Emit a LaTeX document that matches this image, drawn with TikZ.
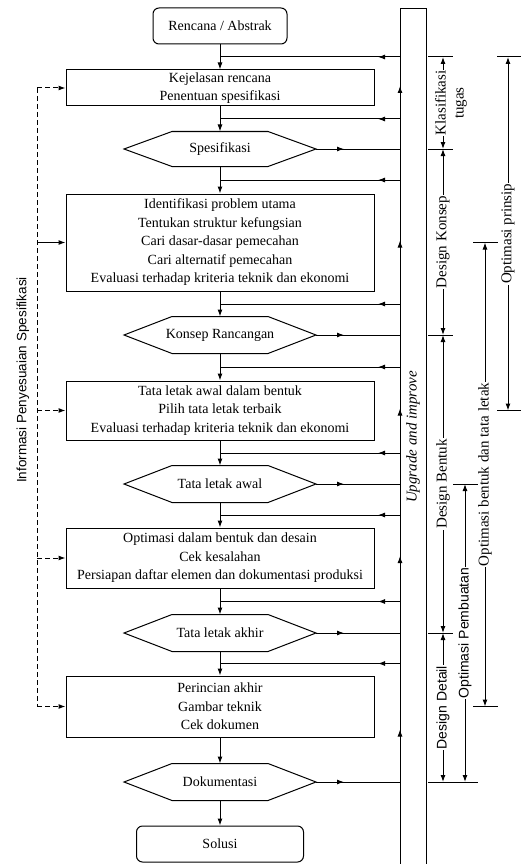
\documentclass[tikz,border=0pt]{standalone}
\usepackage{fontspec}
\setmainfont{Liberation Serif}
\newfontfamily\labelsans{Liberation Sans}
\usetikzlibrary{arrows.meta,positioning,calc}

\tikzset{
  box/.style={draw, minimum width=308pt, align=center, inner sep=2pt,
    font=\fontsize{14}{18.5}\selectfont},
  term/.style={box, rounded corners=6pt, minimum height=36pt},
  hexa/.style={minimum width=191pt, minimum height=36pt,
    font=\fontsize{14}{18.5}\selectfont},
  lbl/.style={rotate=90, fill=white, inner sep=1pt, align=center,
    font=\fontsize{15}{18}\selectfont},
  sanslbl/.style={lbl, font=\labelsans\fontsize{14}{17}\selectfont},
  info/.style={dash pattern=on 5pt off 3pt}
}

\begin{document}
\begin{tikzpicture}[x=1pt, y=1pt, line width=1pt, node distance=25pt,
    >={Latex[length=7pt,width=5pt]}]
  \useasboundingbox (0,0) rectangle (521,-864);

  % main column
  \node[term, minimum width=134pt] (ren) at (220,-26) {Rencana / Abstrak};
  \node[box, minimum height=36pt] (kej) [below=of ren] {Kejelasan rencana\\Penentuan spesifikasi};
  \node[hexa, minimum height=34pt] (spek) [below=of kej] {Spesifikasi};
  \node[box, minimum height=97pt] (ident) [below=27pt of spek] {Identifikasi problem utama\\Tentukan struktur kefungsian\\Cari dasar-dasar pemecahan\\Cari alternatif pemecahan\\Evaluasi terhadap kriteria teknik dan ekonomi};
  \node[hexa] (konsep) [below=of ident] {Konsep Rancangan};
  \node[box, minimum height=59pt] (awal) [below=27pt of konsep] {Tata letak awal dalam bentuk\\Pilih tata letak terbaik\\Evaluasi terhadap kriteria teknik dan ekonomi};
  \node[hexa] (awalhex) [below=of awal] {Tata letak awal};
  \node[box, minimum height=60pt] (opt) [below=of awalhex] {Optimasi dalam bentuk dan desain\\Cek kesalahan\\Persiapan daftar elemen dan dokumentasi produksi};
  \node[hexa] (akhir) [below=26pt of opt] {Tata letak akhir};
  \node[box, minimum height=61pt] (rinci) [below=24pt of akhir] {Perincian akhir\\Gambar teknik\\Cek dokumen};
  \node[hexa] (dok) [below=26pt of rinci] {Dokumentasi};
  \node[term, minimum width=167pt] (solusi) [below=of dok] {Solusi};

  \foreach \a/\b in {ren/kej, kej/spek, spek/ident, ident/konsep, konsep/awal,
      awal/awalhex, awalhex/opt, opt/akhir, akhir/rinci, rinci/dok, dok/solusi}
    \draw[->] (\a) -- (\b);

  % upgrade and improve
  \coordinate (up) at (400,-9);
  \coordinate (upb) at (400,-864);
  \coordinate (up2) at (426,-9);
  \coordinate (up2b) at (426,-864);
  \draw (upb) -- (up) -- (up2) -- (up2b);
  \node[rotate=90, font=\itshape\fontsize{15}{18}\selectfont] (upg) at (413,-437) {Upgrade and improve};
  \foreach \b in {kej,ident,awal,opt}
    \draw[->] ($(up |- \b)+(0,-6)$) -- ($(up |- \b)+(0,2)$);
  \draw[->] ($(up |- rinci)+(0,-31)$) -- ($(up |- rinci)+(0,-23)$);

  % feedback lines
  \coordinate (start) at ($(ren.south)!.5!(kej.north)$);
  \foreach \a/\b in {ren/kej, kej/spek, spek/ident, ident/konsep, konsep/awal,
      awal/awalhex, awalhex/opt, opt/akhir, akhir/rinci} {
    \coordinate (fb) at ($(\a.south)!.5!(\b.north)$);
    \draw (up |- fb) -- (fb);
    \draw[->] (up |- fb) -- ++(-22,0);
  }

  % hexagons and their outputs
  \foreach \h in {spek,konsep,awalhex,akhir,dok} {
    \draw (\h.west) -- ([xshift=48pt]\h.north west) -- ([xshift=-48pt]\h.north east)
      -- (\h.east) -- ([xshift=-48pt]\h.south east) -- ([xshift=48pt]\h.south west) -- cycle;
    \draw (\h.east) -- (up |- \h.east);
    \draw[->] (\h.east) -- ++(28,0);
  }

  % informasi penyesuaian spesifikasi
  \coordinate (inf) at (37,0);
  \draw[info] (inf |- kej) -- (inf |- rinci);
  \foreach \b in {kej,awal,opt,rinci}
    \draw[info,->] (inf |- \b) -- (\b);
  \draw[->] (inf |- ident) -- (ident);
  \node[sanslbl, font=\labelsans\fontsize{13.5}{16}\selectfont] (infolbl) at (23,-380) {Informasi Penyesuaian Spesifikasi};

  % design stages
  \coordinate (dx) at (443,0);
  \foreach \y in {start,spek,konsep,akhir,dok}
    \draw (\y -| 428,0) -- (\y -| 453,0);
  \draw[<->] (start -| dx) -- (spek -| dx);
  \draw[<->] (spek -| dx) -- (konsep -| dx);
  \draw[<->] (konsep -| dx) -- (akhir -| dx);
  \draw[<->] (akhir -| dx) -- (dok -| dx);
  \node[lbl] (klas) at ($(start -| dx)!.5!(spek -| dx)+(8,0)$) {Klasifikasi\\tugas};
  \node[lbl] (dkonsep) at ($(spek -| dx)!.5!(konsep -| dx)$) {Design Konsep};
  \node[lbl] (dbentuk) at ($(konsep -| dx)!.5!(akhir -| dx)$) {Design Bentuk};
  \node[sanslbl] (ddetail) at ($(akhir -| dx)!.5!(dok -| dx)$) {Design Detail};

  % optimasi
  \coordinate (ox1) at (508,0);
  \coordinate (ox2) at (485,0);
  \coordinate (ox3) at (465,0);
  \draw (start -| 497,0) -- (start -| 521,0);
  \draw (awal -| 497,0) -- (awal -| 521,0);
  \draw[<->] (start -| ox1) -- (awal -| ox1);
  \node[lbl] (oprinsip) at ($(start -| ox1)!.5!(awal -| ox1)$) {Optimasi prinsip};
  \draw (ident -| 473,0) -- (ident -| 498,0);
  \draw (rinci -| 473,0) -- (rinci -| 498,0);
  \draw[<->] (ident -| ox2) -- (rinci -| ox2);
  \node[lbl] (obentuk) at ($(ident -| ox2)!.5!(rinci -| ox2)$) {Optimasi bentuk dan tata letak};
  \draw (awalhex -| 453,0) -- (awalhex -| 478,0);
  \draw (dok -| 453,0) -- (dok -| 478,0);
  \draw[<->] (awalhex -| ox3) -- (dok -| ox3);
  \node[sanslbl] (opembuatan) at ($(awalhex -| ox3)!.5!(dok -| ox3)$) {Optimasi Pembuatan};
\end{tikzpicture}
\end{document}
